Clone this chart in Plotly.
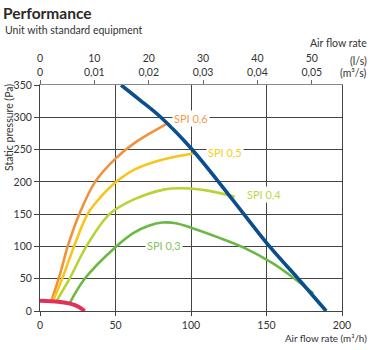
import plotly.graph_objects as go

# ---- data (air flow in m3/h, static pressure in Pa) ----
fan_max_x = [53.7, 66, 80, 100, 125, 152, 171, 189.5]
fan_max_y = [350, 327, 300, 252, 180, 100, 50, 0]

spi06_x = [7.5, 13, 19, 26, 36.5, 50, 62.5, 83.3]
spi06_y = [15, 55, 105, 150, 200, 236, 260, 289]

spi05_x = [8.5, 15.5, 22.5, 31.5, 38.5, 50.5, 62.5, 82, 102]
spi05_y = [15, 55, 100, 150, 172, 200, 219, 235, 244]

spi04_x = [10.8, 19.6, 30.7, 46, 61.5, 82, 95, 112, 129]
spi04_y = [15, 50, 100, 150, 172, 188, 190, 186, 177]

spi03_x = [19.6, 29.6, 50.5, 62, 72, 81, 90, 100, 118, 136, 154, 168, 181]
spi03_y = [12, 50, 100, 121, 132, 137, 136, 129, 114, 97, 74, 51, 27]

min_x = [0, 12, 20.7, 25.5, 29.6]
min_y = [16, 14.5, 11, 6.5, 0]

spi_labels = ["SPI 0,6", "SPI 0,5", "SPI 0,4", "SPI 0,3"]
spi_label_x = [87.5, 110, 136, 69.5]
spi_label_y = [298, 246, 180, 102]

x_ticks = [0, 50, 100, 150, 200]
y_ticks = [0, 50, 100, 150, 200, 250, 300, 350]
ls_ticks = [0, 10, 20, 30, 40, 50]
m3s_labels = ["0", "0,01", "0,02", "0,03", "0,04", "0,05"]

FONT = "Lato"
TXT = "#333333"

colors = {
    "spi06": "#f0923c",
    "spi05": "#f7c51c",
    "spi04": "#b7d334",
    "spi03": "#6bb944",
    "max": "#0a4e8e",
    "min": "#e1305a",
}
label_colors = ["#f29a4e", "#f3cf1a", "#bfd641", "#86c35a"]

fig = go.Figure()

def add_curve(x, y, color, width):
    fig.add_trace(go.Scatter(x=x, y=y, mode="lines",
                             line=dict(color=color, width=width, shape="spline", smoothing=1.0),
                             hoverinfo="skip", showlegend=False))

add_curve(spi06_x, spi06_y, colors["spi06"], 2.6)
add_curve(spi05_x, spi05_y, colors["spi05"], 2.6)
add_curve(spi04_x, spi04_y, colors["spi04"], 2.6)
add_curve(spi03_x, spi03_y, colors["spi03"], 2.6)
add_curve(min_x, min_y, colors["min"], 4)
add_curve(fan_max_x, fan_max_y, colors["max"], 3.6)

# dummy trace for top axis
fig.add_trace(go.Scatter(x=[0, 200], y=[0, 0], xaxis="x2", mode="markers",
                         marker=dict(opacity=0), hoverinfo="skip", showlegend=False))

for t, lx, ly, c in zip(spi_labels, spi_label_x, spi_label_y, label_colors):
    fig.add_annotation(x=lx, y=ly, text=t, showarrow=False, xanchor="left", yanchor="middle",
                       font=dict(family=FONT, size=11, color=c), bgcolor="white", borderpad=1)

ls_vals = [v * 3.6 for v in ls_ticks]
ls_text = [f"{a}<br>{b}" for a, b in zip(ls_ticks, m3s_labels)]

fig.update_layout(
    width=378, height=350,
    margin=dict(l=40, r=36, t=85, b=39),
    paper_bgcolor="white", plot_bgcolor="white",
    font=dict(family=FONT, size=10.5, color=TXT),
    title=dict(text="<b>Performance</b>", xref="container", yref="container",
               x=3 / 378, y=1 - 14 / 350, xanchor="left", yanchor="middle",
               font=dict(family=FONT, size=15.5, color="#2b2b2b")),
    xaxis=dict(range=[0, 200], tickvals=x_ticks, ticks="outside", ticklen=4, tickcolor="#444",
               showgrid=True, gridcolor="#444", gridwidth=1, showline=True, linecolor="#444",
               mirror=False, zeroline=False, tickfont=dict(size=10.5, color=TXT)),
    xaxis2=dict(range=[0, 200], overlaying="x", side="top", anchor="y", tickvals=ls_vals,
                ticktext=ls_text, ticks="outside", ticklen=4, tickcolor="#666",
                showgrid=False, showline=True, linecolor="#888", zeroline=False,
                tickfont=dict(size=10.5, color=TXT)),
    yaxis=dict(range=[0, 350], tickvals=y_ticks, ticks="outside", ticklen=5, tickcolor="#444",
               showgrid=True, gridcolor="#444", gridwidth=1, showline=True, linecolor="#444",
               mirror=True, zeroline=False, tickfont=dict(size=10.5, color=TXT)),
)

ann = dict(showarrow=False, xref="paper", yref="paper")
f = dict(family=FONT, size=10.5, color=TXT)
fig.add_annotation(text="Unit with standard equipment", x=(3 - 40) / 302, y=(311 - 30) / 226,
                   xanchor="left", yanchor="middle", font=f, **ann)
fig.add_annotation(text="Air flow rate", x=(369 - 40) / 302, y=(311 - 43) / 226,
                   xanchor="right", yanchor="middle", font=f, **ann)
fig.add_annotation(text="(l/s)", x=(369 - 40) / 302, y=(311 - 61) / 226,
                   xanchor="right", yanchor="middle", font=f, **ann)
fig.add_annotation(text="(m³/s)", x=(369 - 40) / 302, y=(311 - 73) / 226,
                   xanchor="right", yanchor="middle", font=f, **ann)
fig.add_annotation(text="Air flow rate (m³/h)", x=(369 - 40) / 302, y=(311 - 338) / 226,
                   xanchor="right", yanchor="middle", font=dict(family=FONT, size=9.8, color=TXT), **ann)
fig.add_annotation(text="Static pressure (Pa)", x=(9 - 40) / 302, y=(311 - 128) / 226,
                   xanchor="center", yanchor="middle", textangle=-90, font=f, **ann)

fig.write_html("out.html")
